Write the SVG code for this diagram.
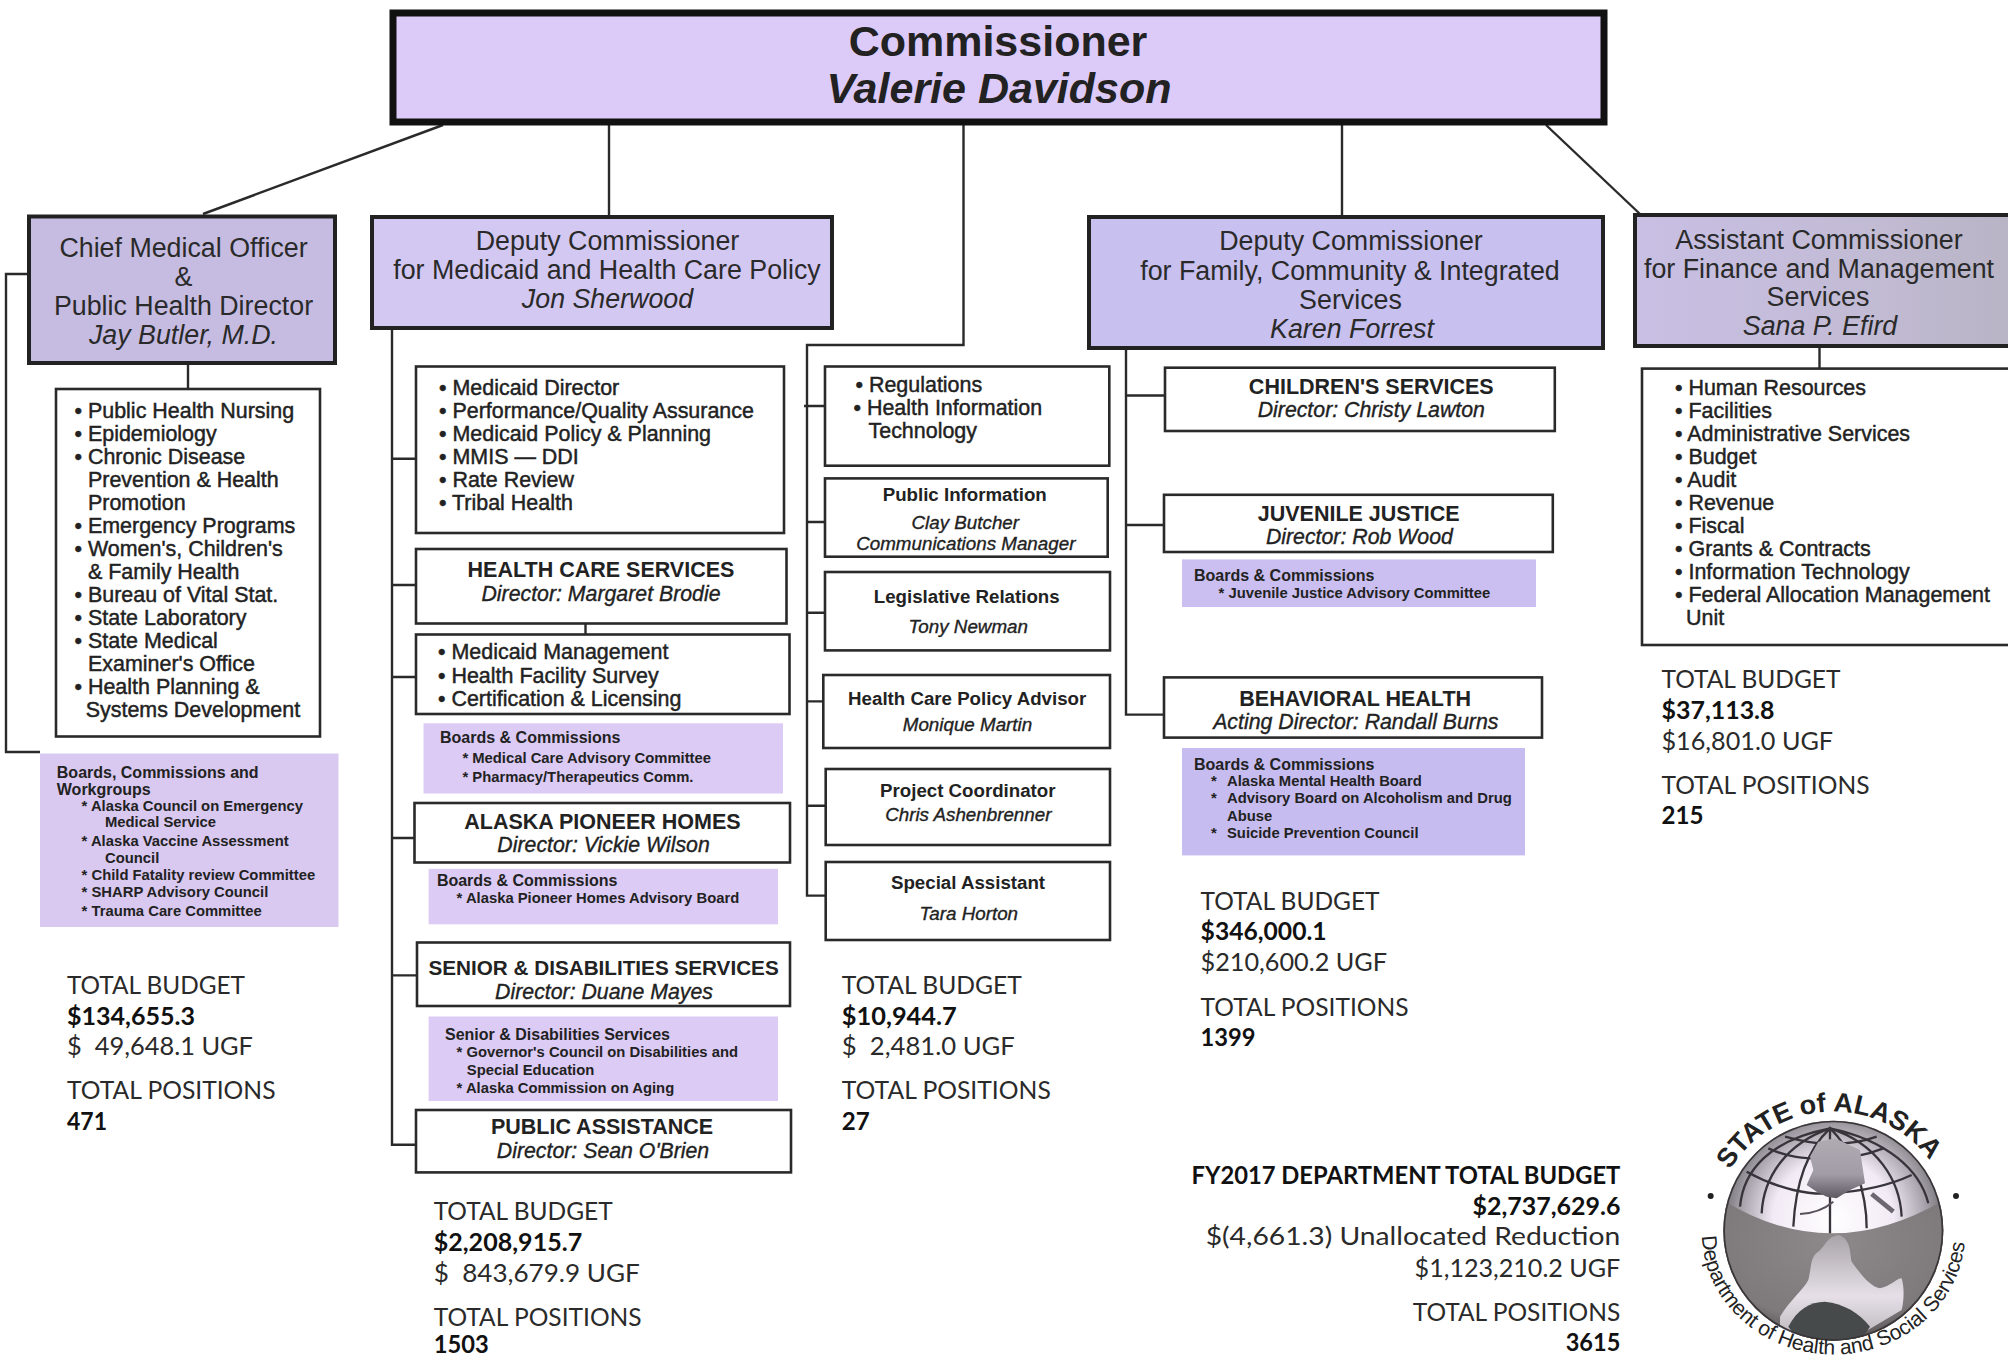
<svg xmlns="http://www.w3.org/2000/svg" width="2008" height="1359" viewBox="0 0 2008 1359">
<style>
text{font-family:"Liberation Sans",Arial,sans-serif;fill:#222}
.box{fill:#fff;stroke:#2a2a2a;stroke-width:2.6}
.head{stroke:#222;stroke-width:4}
.panel{stroke:none}
.conn{fill:none;stroke:#2a2a2a;stroke-width:2.4}
.ct{font-size:26.8px;text-anchor:middle;fill:#2a2a2a}
.ci{font-size:26.8px;text-anchor:middle;font-style:italic;fill:#2a2a2a}
.li{font-size:21.45px;stroke:#222;stroke-width:.45}
.h{font-size:21.5px;font-weight:bold;text-anchor:middle}
.di{font-size:21.3px;font-style:italic;text-anchor:middle;stroke:#222;stroke-width:.35}
.m{font-size:18.7px;font-weight:bold;text-anchor:middle}
.mi{font-size:18.8px;font-style:italic;text-anchor:middle;stroke:#222;stroke-width:.35}
.bh{font-size:16px;font-weight:bold}
.bi{font-size:14.8px;font-weight:bold}
.g{font-family:Lato,"Open Sans",sans-serif;font-size:25px;font-weight:400;white-space:pre;fill:#2a2a2a}
.gb{font-family:Lato,"Open Sans",sans-serif;font-size:25px;font-weight:700;white-space:pre;fill:#111}
.grid{fill:none;stroke:#38343c;stroke-width:7}
</style>
<defs>
<linearGradient id="asst" x1="0" x2="1" y1="0" y2="0"><stop offset="0" stop-color="#c8bfe4"/><stop offset=".6" stop-color="#c2bbd4"/><stop offset="1" stop-color="#b6b2c2"/></linearGradient>
<radialGradient id="upper" cx=".5" cy=".45" r=".55"><stop offset="0" stop-color="#fff"/><stop offset=".5" stop-color="#f2eaf5"/><stop offset=".8" stop-color="#9c98a0"/><stop offset="1" stop-color="#5c5860"/></radialGradient>
<radialGradient id="lower" cx=".5" cy=".3" r=".75"><stop offset="0" stop-color="#8d8889"/><stop offset=".7" stop-color="#7e797b"/><stop offset="1" stop-color="#3e3b3e"/></radialGradient>
<linearGradient id="land" x1="0" x2="0" y1="0" y2="1"><stop offset="0" stop-color="#a9a4a8"/><stop offset=".6" stop-color="#e6dfe8"/><stop offset="1" stop-color="#bdb8bd"/></linearGradient>
<linearGradient id="ak" x1="0" x2="0" y1="0" y2="1"><stop offset="0" stop-color="#b0abb3"/><stop offset=".6" stop-color="#a29ca6"/><stop offset="1" stop-color="#5c5860"/></linearGradient>
<clipPath id="ball"><circle cx="490" cy="482" r="330"/></clipPath>
<path id="arcTop" d="M1730 1170 A120 120 0 0 1 1936 1170"/>
<path id="arcBot" d="M1702 1236 A131.500 121 0 0 0 1965 1231"/>
</defs>
<rect width="2008" height="1359" fill="#fff"/>

<g id="connectors">
<path class="conn" d="M443 125L203 214"/>
<path class="conn" d="M609 125V217"/>
<path class="conn" d="M963.500 125V345H807V895.600H825"/>
<path class="conn" d="M1342 125V217"/>
<path class="conn" d="M1546 125L1640 214"/>
<path class="conn" d="M28 274H6V752H40"/>
<path class="conn" d="M188 363V389"/>
<path class="conn" d="M392 329V1144.700H416"/>
<path class="conn" d="M392 458.800H416M392 585H416M392 677H416M392 838H415M392 975.400H417"/>
<path class="conn" d="M585.500 623V635"/>
<path class="conn" d="M804 406H825M807 522H825M807 612.800H825M807 701.400H823M807 805.800H826"/>
<path class="conn" d="M1126 349V714.600H1164M1126 395.500H1165M1126 525H1164"/>
<path class="conn" d="M1819.500 347V369"/>
</g>

<g id="commissioner">
<rect x="393" y="13" width="1211" height="109" fill="#dccaf8" stroke="#111" stroke-width="7"/>
<text x="998" y="56" font-size="43" font-weight="bold" text-anchor="middle">Commissioner</text>
<text x="999" y="103" font-size="43" font-weight="bold" font-style="italic" text-anchor="middle">Valerie Davidson</text>
</g>

<g id="chief-medical-officer">
<rect class="head" x="29" y="216.500" width="306" height="146.500" fill="#c6bce2"/>
<text class="ct" x="183.500" y="257">Chief Medical Officer</text>
<text class="ct" x="183.500" y="286">&amp;</text>
<text class="ct" x="183.500" y="314.500">Public Health Director</text>
<text class="ci" x="183.500" y="343.500">Jay Butler, M.D.</text>
</g>

<g id="deputy-medicaid">
<rect class="head" x="372" y="217" width="460" height="111" fill="#d3c8f2"/>
<text class="ct" x="607.500" y="249.500">Deputy Commissioner</text>
<text class="ct" x="607" y="279">for Medicaid and Health Care Policy</text>
<text class="ci" x="607.500" y="308">Jon Sherwood</text>
</g>

<g id="deputy-family">
<rect class="head" x="1089" y="217" width="514" height="131" fill="#c8c0ee"/>
<text class="ct" x="1351" y="250">Deputy Commissioner</text>
<text class="ct" x="1350" y="279.500">for Family, Community &amp; Integrated</text>
<text class="ct" x="1350.500" y="309">Services</text>
<text class="ci" x="1352" y="338">Karen Forrest</text>
</g>

<g id="assistant-commissioner">
<rect class="head" x="1635" y="215" width="400" height="131" fill="url(#asst)"/>
<text class="ct" x="1819" y="248.500">Assistant Commissioner</text>
<text class="ct" x="1819" y="277.500">for Finance and Management</text>
<text class="ct" x="1818" y="306">Services</text>
<text class="ci" x="1820" y="335">Sana P. Efird</text>
</g>

<g id="public-health-list">
<rect class="box" x="56" y="389" width="264" height="347.500"/>
<text class="li" x="74.500" y="417.500">• Public Health Nursing</text>
<text class="li" x="74.500" y="440.500">• Epidemiology</text>
<text class="li" x="74.500" y="463.500">• Chronic Disease</text>
<text class="li" x="88" y="486.500">Prevention &amp; Health</text>
<text class="li" x="88" y="509.700">Promotion</text>
<text class="li" x="74.500" y="532.700">• Emergency Programs</text>
<text class="li" x="74.500" y="555.800">• Women's, Children's</text>
<text class="li" x="88" y="578.800">&amp; Family Health</text>
<text class="li" x="74.500" y="601.800">• Bureau of Vital Stat.</text>
<text class="li" x="74.500" y="624.900">• State Laboratory</text>
<text class="li" x="74.500" y="647.900">• State Medical</text>
<text class="li" x="88" y="670.900">Examiner's Office</text>
<text class="li" x="74.500" y="694">• Health Planning &amp;</text>
<text class="li" x="85.700" y="717">Systems Development</text>
</g>

<g id="public-health-boards">
<rect class="panel" x="40" y="753.500" width="298.500" height="173.500" fill="#d9c9f1"/>
<text class="bh" x="56.800" y="778">Boards, Commissions and</text>
<text class="bh" x="56.800" y="795.200">Workgroups</text>
<text class="bi" x="81.600" y="811">* Alaska Council on Emergency</text>
<text class="bi" x="105" y="827">Medical Service</text>
<text class="bi" x="81.600" y="846.300">* Alaska Vaccine Assessment</text>
<text class="bi" x="105" y="862.800">Council</text>
<text class="bi" x="81.600" y="880">* Child Fatality review Committee</text>
<text class="bi" x="81.600" y="896.500">* SHARP Advisory Council</text>
<text class="bi" x="81.600" y="915.600">* Trauma Care Committee</text>
</g>

<g id="public-health-budget">
<text class="g" x="67" y="994" textLength="178" lengthAdjust="spacingAndGlyphs">TOTAL BUDGET</text>
<text class="gb" x="67" y="1024.700" textLength="128" lengthAdjust="spacingAndGlyphs">$134,655.3</text>
<text class="g" x="67" y="1055" textLength="186" lengthAdjust="spacingAndGlyphs">$  49,648.1 UGF</text>
<text class="g" x="67" y="1099" textLength="208.500" lengthAdjust="spacingAndGlyphs">TOTAL POSITIONS</text>
<text class="gb" x="67" y="1130.400" textLength="40" lengthAdjust="spacingAndGlyphs">471</text>
</g>

<g id="medicaid-list">
<rect class="box" x="416" y="366.500" width="368" height="166.500"/>
<text class="li" x="439" y="394.600">• Medicaid Director</text>
<text class="li" x="439" y="417.600">• Performance/Quality Assurance</text>
<text class="li" x="439" y="440.700">• Medicaid Policy &amp; Planning</text>
<text class="li" x="439" y="463.700">• MMIS — DDI</text>
<text class="li" x="439" y="486.700">• Rate Review</text>
<text class="li" x="439" y="509.800">• Tribal Health</text>
</g>

<g id="health-care-services">
<rect class="box" x="416" y="549" width="370.500" height="74.500"/>
<text class="h" x="601" y="576.800">HEALTH CARE SERVICES</text>
<text class="di" x="601" y="600.600">Director: Margaret Brodie</text>
</g>

<g id="health-care-list">
<rect class="box" x="416" y="634.500" width="373.500" height="79.500"/>
<text class="li" x="438" y="659">• Medicaid Management</text>
<text class="li" x="438" y="682.500">• Health Facility Survey</text>
<text class="li" x="438" y="706">• Certification &amp; Licensing</text>
</g>

<g id="health-care-boards">
<rect class="panel" x="423.500" y="723.300" width="359.500" height="70.200" fill="#dccbf5"/>
<text class="bh" x="440" y="742.800">Boards &amp; Commissions</text>
<text class="bi" x="462.400" y="763">* Medical Care Advisory Committee</text>
<text class="bi" x="462.400" y="781.800">* Pharmacy/Therapeutics Comm.</text>
</g>

<g id="pioneer-homes">
<rect class="box" x="414.500" y="803" width="375.500" height="59.500"/>
<text class="h" x="602.400" y="828.500">ALASKA PIONEER HOMES</text>
<text class="di" x="603.600" y="852.400">Director: Vickie Wilson</text>
</g>

<g id="pioneer-boards">
<rect class="panel" x="428.600" y="868.800" width="349.400" height="55.500" fill="#dccbf5"/>
<text class="bh" x="436.900" y="885.700">Boards &amp; Commissions</text>
<text class="bi" x="456.600" y="902.600">* Alaska Pioneer Homes Advisory Board</text>
</g>

<g id="senior-disabilities">
<rect class="box" x="417" y="942.500" width="373" height="63.500"/>
<text class="h" x="603.600" y="975.400" style="font-size:20.7px">SENIOR &amp; DISABILITIES SERVICES</text>
<text class="di" x="604" y="998.700">Director: Duane Mayes</text>
</g>

<g id="senior-boards">
<rect class="panel" x="428.600" y="1016.500" width="349.400" height="84.500" fill="#dccbf5"/>
<text class="bh" x="445" y="1040.300">Senior &amp; Disabilities Services</text>
<text class="bi" x="456.600" y="1056.800">* Governor's Council on Disabilities and</text>
<text class="bi" x="466.800" y="1075">Special Education</text>
<text class="bi" x="456.600" y="1092.700">* Alaska Commission on Aging</text>
</g>

<g id="public-assistance">
<rect class="box" x="416" y="1110" width="375" height="62.400"/>
<text class="h" x="602" y="1133.900">PUBLIC ASSISTANCE</text>
<text class="di" x="603" y="1157.700">Director: Sean O'Brien</text>
</g>

<g id="medicaid-budget">
<text class="g" x="433.700" y="1219.600" textLength="179" lengthAdjust="spacingAndGlyphs">TOTAL BUDGET</text>
<text class="gb" x="433.700" y="1250.800" textLength="148.500" lengthAdjust="spacingAndGlyphs">$2,208,915.7</text>
<text class="g" x="433.700" y="1282" textLength="206" lengthAdjust="spacingAndGlyphs">$  843,679.9 UGF</text>
<text class="g" x="433.700" y="1326" textLength="208" lengthAdjust="spacingAndGlyphs">TOTAL POSITIONS</text>
<text class="gb" x="433.700" y="1353" textLength="55" lengthAdjust="spacingAndGlyphs">1503</text>
</g>

<g id="regulations">
<rect class="box" x="825" y="366.500" width="284.300" height="99.200"/>
<text class="li" x="855.500" y="392.400">• Regulations</text>
<text class="li" x="853.500" y="415.200">• Health Information</text>
<text class="li" x="868.500" y="438.200">Technology</text>
</g>
<g id="public-information">
<rect class="box" x="825" y="478.400" width="282.700" height="78.300"/>
<text class="m" x="964.700" y="500.500">Public Information</text>
<text class="mi" x="965.300" y="529">Clay Butcher</text>
<text class="mi" x="965.800" y="549.600">Communications Manager</text>
</g>
<g id="legislative-relations">
<rect class="box" x="825" y="572" width="285" height="78.400"/>
<text class="m" x="966.700" y="602.600">Legislative Relations</text>
<text class="mi" x="968.300" y="632.600">Tony Newman</text>
</g>
<g id="policy-advisor">
<rect class="box" x="823.300" y="675" width="286.700" height="73"/>
<text class="m" x="967.200" y="704.600">Health Care Policy Advisor</text>
<text class="mi" x="967.500" y="730.700">Monique Martin</text>
</g>
<g id="project-coordinator">
<rect class="box" x="825.700" y="769" width="284.300" height="76"/>
<text class="m" x="967.800" y="796.700">Project Coordinator</text>
<text class="mi" x="968.300" y="820.800">Chris Ashenbrenner</text>
</g>
<g id="special-assistant">
<rect class="box" x="825.700" y="862" width="284.300" height="78"/>
<text class="m" x="968" y="888.800">Special Assistant</text>
<text class="mi" x="968.800" y="920">Tara Horton</text>
</g>
<g id="office-budget">
<text class="g" x="841.800" y="994" textLength="180" lengthAdjust="spacingAndGlyphs">TOTAL BUDGET</text>
<text class="gb" x="841.800" y="1024.700" textLength="115" lengthAdjust="spacingAndGlyphs">$10,944.7</text>
<text class="g" x="841.800" y="1055" textLength="173" lengthAdjust="spacingAndGlyphs">$  2,481.0 UGF</text>
<text class="g" x="841.800" y="1099" textLength="209" lengthAdjust="spacingAndGlyphs">TOTAL POSITIONS</text>
<text class="gb" x="841.800" y="1130.400" textLength="28" lengthAdjust="spacingAndGlyphs">27</text>
</g>

<g id="childrens-services">
<rect class="box" x="1165" y="367.700" width="389.800" height="63.300"/>
<text class="h" x="1371.300" y="393.800">CHILDREN'S SERVICES</text>
<text class="di" x="1371.300" y="417">Director: Christy Lawton</text>
</g>
<g id="juvenile-justice">
<rect class="box" x="1164" y="494.800" width="388.800" height="57.200"/>
<text class="h" x="1358.700" y="520.800">JUVENILE JUSTICE</text>
<text class="di" x="1359.400" y="544.200">Director: Rob Wood</text>
</g>
<g id="juvenile-boards">
<rect class="panel" x="1182" y="559.400" width="354" height="47.600" fill="#cabff0"/>
<text class="bh" x="1194" y="581">Boards &amp; Commissions</text>
<text class="bi" x="1218.600" y="597.600">* Juvenile Justice Advisory Committee</text>
</g>
<g id="behavioral-health">
<rect class="box" x="1164" y="677.400" width="378" height="60.200"/>
<text class="h" x="1355.200" y="706">BEHAVIORAL HEALTH</text>
<text class="di" x="1355.800" y="729">Acting Director: Randall Burns</text>
</g>
<g id="behavioral-boards">
<rect class="panel" x="1182" y="748" width="343" height="107.400" fill="#c6bcf0"/>
<text class="bh" x="1194" y="769.600">Boards &amp; Commissions</text>
<text class="bi" x="1211" y="785.700">*<tspan x="1227">Alaska Mental Health Board</tspan></text>
<text class="bi" x="1211" y="803">*<tspan x="1227">Advisory Board on Alcoholism and Drug</tspan></text>
<text class="bi" x="1227" y="821">Abuse</text>
<text class="bi" x="1211" y="838">*<tspan x="1227">Suicide Prevention Council</tspan></text>
</g>
<g id="family-budget">
<text class="g" x="1200.600" y="909.500" textLength="179" lengthAdjust="spacingAndGlyphs">TOTAL BUDGET</text>
<text class="gb" x="1200.600" y="939.900" textLength="126" lengthAdjust="spacingAndGlyphs">$346,000.1</text>
<text class="g" x="1200.600" y="971" textLength="186.400" lengthAdjust="spacingAndGlyphs">$210,600.2 UGF</text>
<text class="g" x="1200.600" y="1015.600" textLength="208" lengthAdjust="spacingAndGlyphs">TOTAL POSITIONS</text>
<text class="gb" x="1200.600" y="1046" textLength="55" lengthAdjust="spacingAndGlyphs">1399</text>
</g>

<g id="finance-list">
<rect class="box" x="1642" y="368.600" width="400" height="276.400"/>
<text class="li" x="1675" y="394.600">• Human Resources</text>
<text class="li" x="1675" y="417.600">• Facilities</text>
<text class="li" x="1675" y="440.700">• Administrative Services</text>
<text class="li" x="1675" y="463.700">• Budget</text>
<text class="li" x="1675" y="486.800">• Audit</text>
<text class="li" x="1675" y="509.800">• Revenue</text>
<text class="li" x="1675" y="532.900">• Fiscal</text>
<text class="li" x="1675" y="555.900">• Grants &amp; Contracts</text>
<text class="li" x="1675" y="579">• Information Technology</text>
<text class="li" x="1675" y="602">• Federal Allocation Management</text>
<text class="li" x="1686" y="625">Unit</text>
</g>
<g id="finance-budget">
<text class="g" x="1661.500" y="688.300" textLength="179" lengthAdjust="spacingAndGlyphs">TOTAL BUDGET</text>
<text class="gb" x="1661.500" y="719" textLength="113" lengthAdjust="spacingAndGlyphs">$37,113.8</text>
<text class="g" x="1661.500" y="750" textLength="171.600" lengthAdjust="spacingAndGlyphs">$16,801.0 UGF</text>
<text class="g" x="1661.500" y="793.500" textLength="208" lengthAdjust="spacingAndGlyphs">TOTAL POSITIONS</text>
<text class="gb" x="1661.500" y="823.800" textLength="42" lengthAdjust="spacingAndGlyphs">215</text>
</g>

<g id="department-total">
<text class="gb" x="1191.600" y="1183.700" textLength="428.700" lengthAdjust="spacingAndGlyphs">FY2017 DEPARTMENT TOTAL BUDGET</text>
<text class="gb" x="1472.500" y="1214.900" textLength="148" lengthAdjust="spacingAndGlyphs">$2,737,629.6</text>
<text class="g" x="1205.700" y="1245" textLength="414.600" lengthAdjust="spacingAndGlyphs">$(4,661.3) Unallocated Reduction</text>
<text class="g" x="1414.600" y="1276.800" textLength="205.700" lengthAdjust="spacingAndGlyphs">$1,123,210.2 UGF</text>
<text class="g" x="1412.700" y="1321" textLength="207.600" lengthAdjust="spacingAndGlyphs">TOTAL POSITIONS</text>
<text class="gb" x="1565.700" y="1351" textLength="54.600" lengthAdjust="spacingAndGlyphs">3615</text>
</g>

<g id="seal">
<g transform="translate(1670 1070) scale(.33333)">
<circle cx="490" cy="482" r="330" fill="url(#upper)"/>
<g clip-path="url(#ball)">
<path d="M150 385Q480 595 830 385V830H150Z" fill="url(#lower)"/>
<path d="M505 495C545 505 540 560 545 575C570 610 600 650 630 655C660 650 680 625 695 625C705 660 700 700 695 720L560 800H330L330 740C360 690 400 660 415 630C425 590 420 560 445 545C465 530 470 500 505 495Z" fill="url(#land)"/>
<path d="M355 770C380 720 420 695 465 695C520 700 570 730 600 770L560 830H400Z" fill="#474a4a"/>
<path class="grid" d="M480 175C400 250 375 370 370 470M480 175C350 220 280 320 275 430M480 175C300 210 220 300 210 410M480 170V490M480 175C550 240 590 370 590 475M480 175C620 220 690 330 695 440M480 175C650 210 750 300 775 400"/>
<path class="grid" d="M230 305C330 360 420 375 480 370C570 365 650 350 725 315M295 235C350 260 400 268 480 265M480 265C540 265 590 255 640 235M345 200C400 215 440 222 480 222C530 222 580 215 620 200"/>
<path d="M445 215L495 205L570 240L585 340L540 360L500 385L470 380L440 365L410 345L430 300L420 260Z" fill="url(#ak)"/>
<path d="M490 395C460 420 425 430 390 432" fill="none" stroke="#55505a" stroke-width="6"/>
<path d="M605 372L670 425" fill="none" stroke="#6c6770" stroke-width="14"/>
<circle cx="490" cy="482" r="330" fill="none" stroke="#3a3638" stroke-width="10"/>
</g>
<circle cx="122" cy="378" r="9" fill="#222"/>
<circle cx="858" cy="378" r="9" fill="#222"/>
</g>
<text font-size="27" font-weight="bold" fill="#222"><textPath href="#arcTop" startOffset="0" textLength="236" lengthAdjust="spacing">STATE of ALASKA</textPath></text>
<text font-size="21" fill="#222"><textPath href="#arcBot" startOffset="0" textLength="385" lengthAdjust="spacing">Department of Health and Social Services</textPath></text>
</g>
</svg>
